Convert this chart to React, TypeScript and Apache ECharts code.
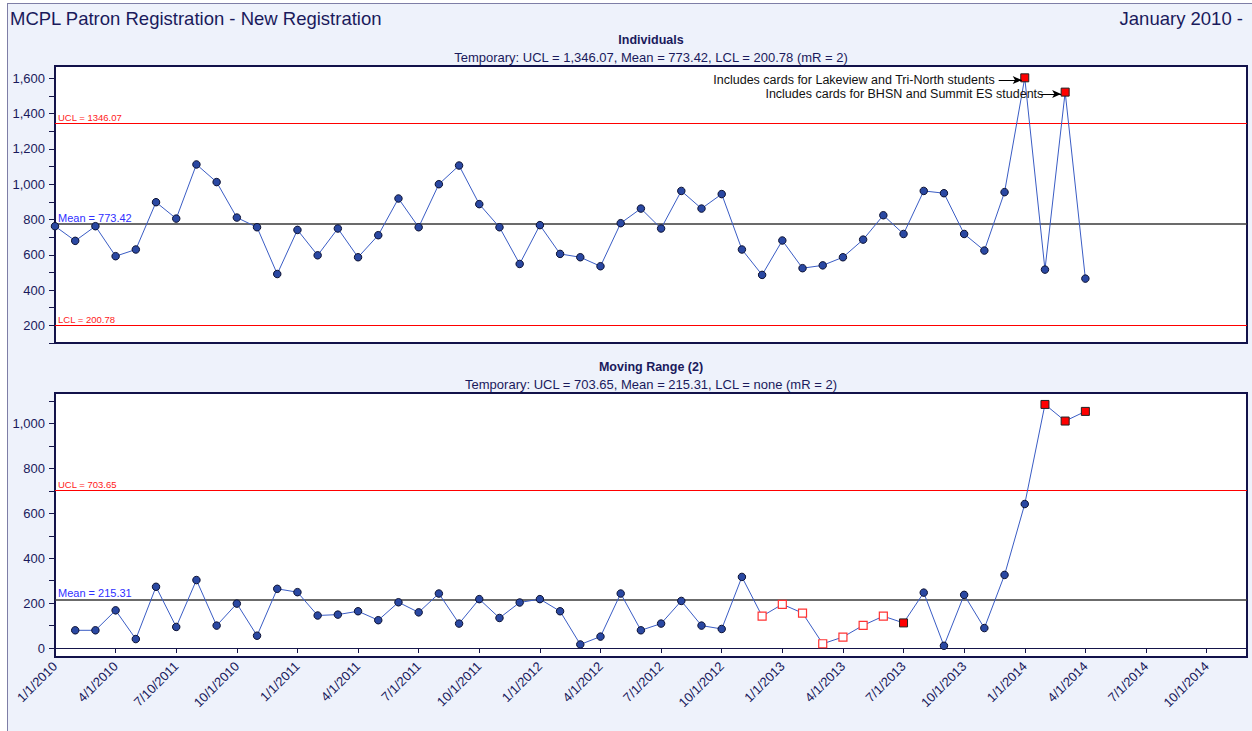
import React, { useEffect, useRef } from 'react';
import * as echarts from 'echarts';

const FONT = '"Liberation Sans", Arial, sans-serif';
const NAVY = '#1a1a5c';

const tickLabels = ['1/1/2010', '4/1/2010', '7/10/2011', '10/1/2010', '1/1/2011', '4/1/2011', '7/1/2011', '10/1/2011', '1/1/2012', '4/1/2012', '7/1/2012', '10/1/2012', '1/1/2013', '4/1/2013', '7/1/2013', '10/1/2013', '1/1/2014', '4/1/2014', '7/1/2014', '10/1/2014'];

// monthly values, index 0 = Jan 2010
const individuals = [762, 679, 762, 592, 630, 898, 805, 1112, 1012, 811,
  756, 491, 741, 597, 749, 586, 711, 919, 756, 1000,
  1106, 887, 756, 548, 768, 605, 586, 535, 779, 862,
  749, 962, 862, 944, 630, 486, 681, 524, 540, 586,
  686, 824, 718, 962, 949, 718, 624, 955, 1603, 516,
  1522, 465];

// moving range, starts at index 1 (Feb 2010)
const movingRange = [79, 79, 168, 40, 273, 94, 303, 100, 198, 55,
  264, 249, 145, 149, 164, 124, 204, 159, 243, 109,
  218, 134, 203, 218, 164, 16, 51, 243, 79, 109,
  210, 100, 85, 317, 142, 195, 156, 19, 49, 101,
  142, 112, 247, 10, 237, 89, 326, 642, 1086, 1012, 1055];

const indSignals = [48, 50];
const mrSignals = [42, 49, 50, 51];
const mrHollow = [35, 36, 37, 38, 39, 40, 41];

const indUCL = 1346.07, indMean = 773.42, indLCL = 200.78;
const mrUCL = 703.65, mrMean = 215.31;

const indLabelValues = [200, 400, 600, 800, 1000, 1200, 1400, 1600];
const indTickValues = [100, 200, 300, 400, 500, 600, 700, 800, 900, 1000, 1100, 1200, 1300, 1400, 1500, 1600];
const mrLabelValues = [0, 200, 400, 600, 800, 1000];
const mrTickValues = [0, 100, 200, 300, 400, 500, 600, 700, 800, 900, 1000, 1100];

const notes = [
  { text: 'Includes cards for Lakeview and Tri-North students', from: [46.71, 1590], to: [47.85, 1590], dist: 4 },
  { text: 'Includes cards for BHSN and Summit ES students', from: [48.72, 1511], to: [49.8, 1511], dist: -4 },
];

const redSquare = { symbol: 'rect', symbolSize: 8, itemStyle: { color: '#ff0000', borderColor: '#222', borderWidth: 1 } };
const hollowSquare = { symbol: 'rect', symbolSize: 8, itemStyle: { color: '#ffffff', borderColor: '#ff3333', borderWidth: 1.2 } };

const indData = individuals.map((v, i) => (indSignals.includes(i) ? { value: [i, v], ...redSquare } : [i, v]));
const mrData = movingRange.map((v, k) => {
  const i = k + 1;
  if (mrSignals.includes(i)) return { value: [i, v], ...redSquare };
  if (mrHollow.includes(i)) return { value: [i, v], ...hollowSquare };
  return [i, v];
});

const fmtNum = (v: number) => Math.round(v).toLocaleString('en-US');
const xFmt = (v: number) => {
  const k = v / 3;
  return Number.isInteger(k) && tickLabels[k] ? tickLabels[k] : '';
};

const limitLine = (value: number, label: string, color: string, labelColor: string, size: number, width = 1) => ({
  yAxis: value,
  lineStyle: { color, width, type: 'solid' },
  label: { show: true, formatter: label, position: 'insideStartTop', color: labelColor, fontSize: size, fontFamily: FONT, distance: [3, 1] },
});

const yAxisCommon = {
  type: 'value',
  axisLine: { show: true, lineStyle: { color: '#15154a', width: 1 } },
  splitLine: { show: false },
};

const option: any = {
  animation: false,
  textStyle: { fontFamily: FONT },
  grid: [
    { left: 55, top: 66, width: 1192, height: 277, show: true, backgroundColor: '#ffffff', borderColor: '#12124a', borderWidth: 2 },
    { left: 55, top: 393, width: 1192, height: 264, show: true, backgroundColor: '#ffffff', borderColor: '#12124a', borderWidth: 2 },
  ],
  xAxis: [
    { gridIndex: 0, type: 'value', min: 0, max: 59, interval: 3, axisLine: { show: false }, axisTick: { show: false }, axisLabel: { show: false }, splitLine: { show: false } },
    {
      gridIndex: 1, type: 'value', min: 0, max: 59, interval: 3,
      axisLine: { show: true, lineStyle: { color: '#15154a', width: 1 } },
      axisTick: { show: true, length: 5, lineStyle: { color: '#15154a' } },
      axisLabel: { rotate: 45, formatter: xFmt, color: NAVY, fontSize: 13, fontFamily: FONT, margin: 7 },
      splitLine: { show: false },
    },
  ],
  yAxis: [
    {
      ...yAxisCommon, gridIndex: 0, min: 100, max: 1670,
      axisTick: { show: true, length: 6, lineStyle: { color: '#15154a' }, customValues: indTickValues },
      axisLabel: { customValues: indLabelValues, formatter: fmtNum, color: NAVY, fontSize: 13, fontFamily: FONT, margin: 10 },
    },
    {
      ...yAxisCommon, gridIndex: 1, min: -40, max: 1137,
      axisTick: { show: true, length: 6, lineStyle: { color: '#15154a' }, customValues: mrTickValues },
      axisLabel: { customValues: mrLabelValues, formatter: fmtNum, color: NAVY, fontSize: 13, fontFamily: FONT, margin: 10 },
    },
  ],
  graphic: [
    { type: 'text', x: 10, y: 18, style: { text: 'MCPL Patron Registration - New Registration', font: `18.5px ${FONT}`, fill: NAVY, align: 'left', verticalAlign: 'middle' } },
    { type: 'text', x: 1243, y: 18, style: { text: 'January 2010 -', font: `18.5px ${FONT}`, fill: NAVY, align: 'right', verticalAlign: 'middle' } },
    { type: 'text', x: 651, y: 40, style: { text: 'Individuals', font: `bold 12.5px ${FONT}`, fill: NAVY, align: 'center', verticalAlign: 'middle' } },
    { type: 'text', x: 651, y: 57, style: { text: `Temporary: UCL = ${indUCL.toLocaleString('en-US', { minimumFractionDigits: 2 })}, Mean = ${indMean}, LCL = ${indLCL} (mR = 2)`, font: `13px ${FONT}`, fill: NAVY, align: 'center', verticalAlign: 'middle' } },
    { type: 'text', x: 651, y: 367, style: { text: 'Moving Range (2)', font: `bold 12.5px ${FONT}`, fill: NAVY, align: 'center', verticalAlign: 'middle' } },
    { type: 'text', x: 651, y: 384, style: { text: `Temporary: UCL = ${mrUCL}, Mean = ${mrMean}, LCL = none (mR = 2)`, font: `13px ${FONT}`, fill: NAVY, align: 'center', verticalAlign: 'middle' } },
  ],
  series: [
    {
      name: 'Individuals', type: 'line', xAxisIndex: 0, yAxisIndex: 0, data: indData,
      symbol: 'circle', symbolSize: 7.5, showSymbol: true, z: 5,
      lineStyle: { color: '#3a5cc4', width: 1 },
      itemStyle: { color: '#2a48a2', borderColor: '#0d1233', borderWidth: 1 },
      markLine: {
        silent: true, symbol: 'none', animation: false, z: 3,
        data: [
          limitLine(indUCL, `UCL = ${indUCL}`, '#ff0000', '#ff2020', 9.5),
          limitLine(indMean, `Mean = ${indMean}`, '#3a3a3a', '#3030ff', 11, 1.5),
          limitLine(indLCL, `LCL = ${indLCL}`, '#ff0000', '#ff2020', 9.5),
        ],
      },
    },
    {
      name: 'Notes', type: 'line', xAxisIndex: 0, yAxisIndex: 0, data: [],
      markLine: {
        silent: true, animation: false, symbol: ['none', 'arrow'], symbolSize: [6, 9], z: 6,
        lineStyle: { color: '#000', width: 1, type: 'solid' },
        data: notes.map((n) => [
          { coord: n.from, label: { show: true, position: 'start', formatter: n.text, color: '#111', fontSize: 12.5, fontFamily: FONT, distance: n.dist } },
          { coord: n.to },
        ]),
      },
    },
    {
      name: 'Moving Range', type: 'line', xAxisIndex: 1, yAxisIndex: 1, data: mrData,
      symbol: 'circle', symbolSize: 7.5, showSymbol: true, z: 5,
      lineStyle: { color: '#3a5cc4', width: 1 },
      itemStyle: { color: '#2a48a2', borderColor: '#0d1233', borderWidth: 1 },
      markLine: {
        silent: true, symbol: 'none', animation: false, z: 3,
        data: [
          limitLine(mrUCL, `UCL = ${mrUCL}`, '#ff0000', '#ff2020', 9.5),
          limitLine(mrMean, `Mean = ${mrMean}`, '#3a3a3a', '#3030ff', 11, 1.5),
        ],
      },
    },
  ],
};

export default function App() {
  const ref = useRef<HTMLDivElement>(null);
  useEffect(() => {
    const chart = echarts.init(ref.current!, null, { renderer: 'svg' });
    chart.setOption(option);
    return () => chart.dispose();
  }, []);
  return (
    <div style={{ position: 'absolute', left: 0, top: 0, width: 1252, height: 731, background: '#ffffff', overflow: 'hidden' }}>
      <div style={{ position: 'absolute', left: 7, top: 3, width: 1270, height: 760, background: '#EEF2FB', borderLeft: '1px solid #7e7ea6', borderTop: '1px solid #7e7ea6' }} />
      <div ref={ref} style={{ position: 'absolute', left: 0, top: 0, width: 1252, height: 731 }} />
    </div>
  );
}
